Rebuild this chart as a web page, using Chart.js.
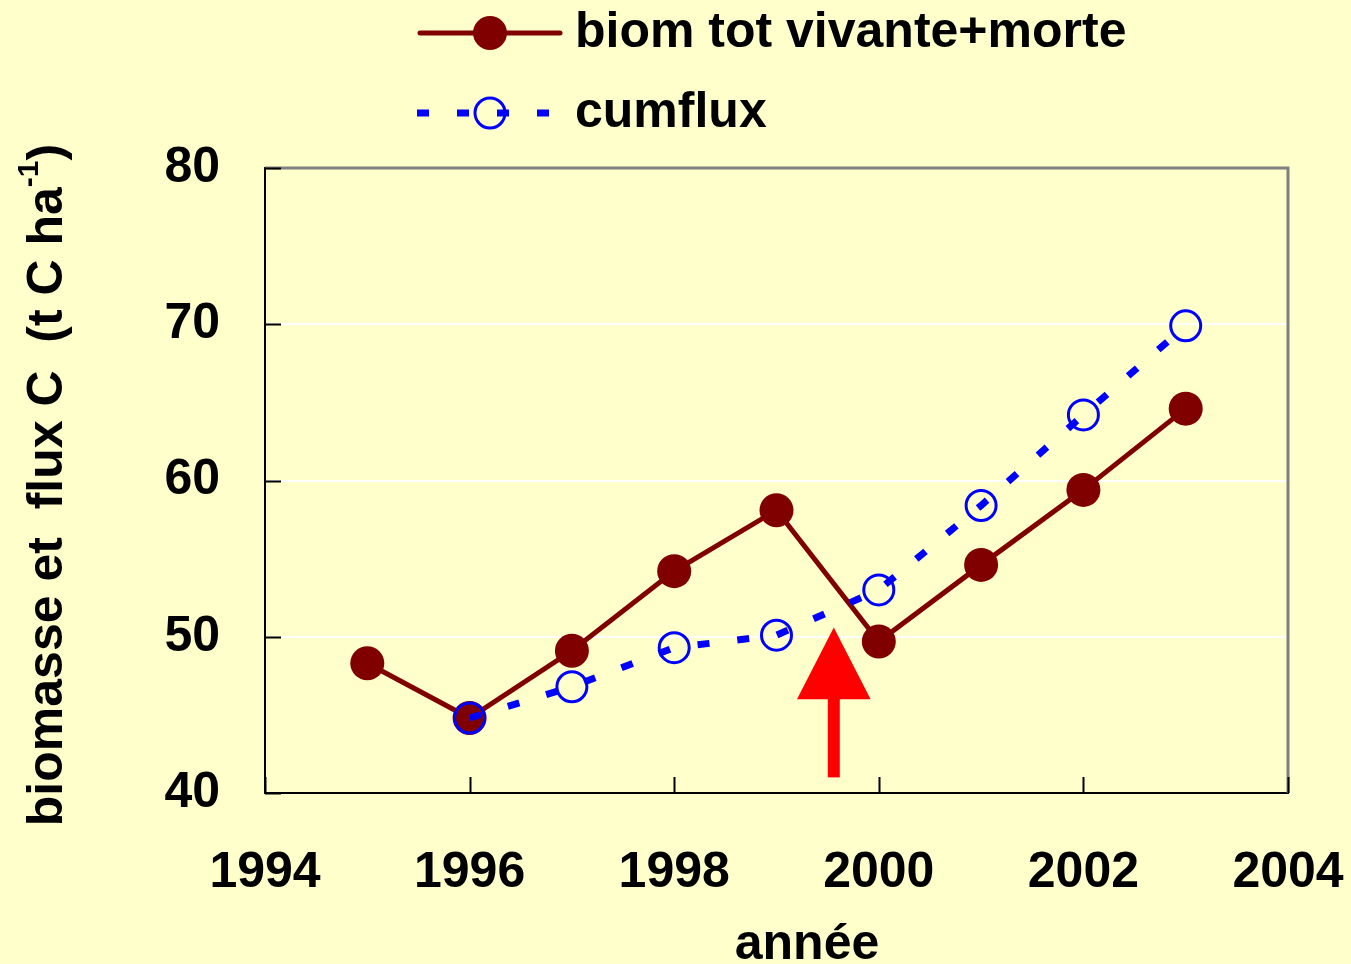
<!DOCTYPE html>
<html>
<head>
<meta charset="utf-8">
<script src="https://cdn.jsdelivr.net/npm/chart.js@4/dist/chart.umd.min.js"></script>
<style>
  html, body { margin: 0; padding: 0; background: #FFFFCC; }
  #wrap { width: 1351px; height: 964px; position: relative; }
</style>
</head>
<body>
<div id="wrap"><canvas id="graphe"></canvas></div>
<script>
// données
const annees = [1995, 1996, 1997, 1998, 1999, 2000, 2001, 2002, 2003];
const biomTot = [48.3, 44.8, 49.1, 54.2, 58.1, 49.7, 54.6, 59.4, 64.6];
const anneesFlux = [1996, 1997, 1998, 1999, 2000, 2001, 2002, 2003];
const cumflux = [44.8, 46.8, 49.3, 50.1, 53.0, 58.4, 64.2, 69.9];
const xTicks = [1994, 1996, 1998, 2000, 2002, 2004];
const yTicks = [40, 50, 60, 70, 80];
// flèche rouge : x, pointe, base de la tête, bas de la tige, demi-largeur
const fleche = [1999.56, 50.6, 46.0, 41.0, 0.36];

const police = 'bold 50px "Liberation Sans", Arial, sans-serif';

const decor = {
    id: 'decor',
    afterDatasetsDraw(chart) {
        const c = chart.ctx;
        const a = chart.chartArea;
        const sx = chart.scales.x;
        const sy = chart.scales.y;
        c.save();

        // cadre haut et droit gris
        c.strokeStyle = '#808080';
        c.lineWidth = 3;
        c.beginPath();
        c.moveTo(a.left, a.top);
        c.lineTo(a.right, a.top);
        c.lineTo(a.right, a.bottom);
        c.stroke();

        // graduations intérieures
        c.strokeStyle = '#000';
        c.lineWidth = 2;
        c.beginPath();
        yTicks.forEach(v => {
            const y = Math.round(sy.getPixelForValue(v)) + 0.5;
            c.moveTo(a.left, y);
            c.lineTo(a.left + 16, y);
        });
        xTicks.forEach(v => {
            const x = Math.round(sx.getPixelForValue(v)) + 0.5;
            c.moveTo(x, a.bottom);
            c.lineTo(x, a.bottom - 16);
        });
        c.stroke();

        // flèche
        const fx = sx.getPixelForValue(fleche[0]);
        const pointe = sy.getPixelForValue(fleche[1]);
        const base = sy.getPixelForValue(fleche[2]);
        const bas = sy.getPixelForValue(fleche[3]);
        const demi = sx.getPixelForValue(fleche[0] + fleche[4]) - fx;
        c.fillStyle = '#FF0000';
        c.fillRect(fx - 6, base - 1, 12, bas - base + 1);
        c.beginPath();
        c.moveTo(fx, pointe);
        c.lineTo(fx + demi, base);
        c.lineTo(fx - demi, base);
        c.closePath();
        c.fill();

        // légende
        c.lineCap = 'round';
        c.strokeStyle = '#800000';
        c.lineWidth = 5;
        c.beginPath();
        c.moveTo(420, 33);
        c.lineTo(560, 33);
        c.stroke();
        c.fillStyle = '#800000';
        c.beginPath();
        c.arc(490, 33, 17, 0, Math.PI * 2);
        c.fill();

        c.lineCap = 'butt';
        c.strokeStyle = '#0000FF';
        c.lineWidth = 7;
        c.setLineDash([12, 28]);
        c.beginPath();
        c.moveTo(417, 113);
        c.lineTo(560, 113);
        c.stroke();
        c.setLineDash([]);
        c.lineWidth = 3;
        c.beginPath();
        c.arc(490, 113, 15, 0, Math.PI * 2);
        c.stroke();

        c.fillStyle = '#000';
        c.font = police;
        c.textBaseline = 'middle';
        c.textAlign = 'left';
        c.fillText('biom tot vivante+morte', 575, 33);
        c.fillText('cumflux', 575, 113);

        // titre axe x
        c.textAlign = 'center';
        c.fillText('année', 807, 945);

        // titre axe y (avec exposant)
        c.translate(48, 485);
        c.rotate(-Math.PI / 2);
        const t1 = 'biomasse et  flux C  (t C ha';
        const sup = '-1';
        const t2 = ')';
        const policeSup = 'bold 30px "Liberation Sans", Arial, sans-serif';
        c.font = police;
        const w1 = c.measureText(t1).width;
        const w3 = c.measureText(t2).width;
        c.font = policeSup;
        const w2 = c.measureText(sup).width;
        let x0 = -(w1 + w2 + w3) / 2;
        c.textAlign = 'left';
        c.font = police;
        c.fillText(t1, x0, 0);
        c.font = policeSup;
        c.fillText(sup, x0 + w1, -18);
        c.font = police;
        c.fillText(t2, x0 + w1 + w2, 0);

        c.restore();
    }
};

const ctx = document.getElementById('graphe').getContext('2d');
const graphe = new Chart(ctx, {
    type: 'line',
    data: {
        datasets: [{
            label: 'biom tot vivante+morte',
            data: annees.map((a, i) => ({ x: a, y: biomTot[i] })),
            borderColor: '#800000',
            backgroundColor: '#800000',
            borderWidth: 5,
            pointRadius: 17,
            pointBorderWidth: 0,
            pointBackgroundColor: '#800000',
            order: 1
        }, {
            label: 'cumflux',
            data: anneesFlux.map((a, i) => ({ x: a, y: cumflux[i] })),
            borderColor: '#0000FF',
            backgroundColor: 'rgba(0,0,0,0)',
            borderWidth: 7,
            borderDash: [12, 28],
            pointRadius: 15,
            pointBorderWidth: 3,
            pointBorderColor: '#0000FF',
            pointBackgroundColor: 'rgba(0,0,0,0)',
            order: 0
        }]
    },
    options: {
        responsive: true,
        maintainAspectRatio: false,
        animation: false,
        layout: { padding: { top: 168, right: 63, left: 0, bottom: 0 } },
        plugins: {
            legend: { display: false },
            tooltip: { enabled: false }
        },
        scales: {
            x: {
                type: 'linear',
                min: 1994,
                max: 2004,
                afterFit: s => { s.height = 171; s.paddingLeft = 0; s.paddingRight = 0; },
                afterBuildTicks: s => { s.ticks = xTicks.map(v => ({ value: v })); },
                grid: { display: false, drawTicks: false },
                border: { display: true, color: '#000', width: 2 },
                ticks: {
                    padding: 50,
                    color: '#000',
                    font: { family: '"Liberation Sans", Arial, sans-serif', size: 50, weight: 'bold' },
                    callback: v => String(v)
                }
            },
            y: {
                min: 40,
                max: 80,
                afterFit: s => { s.width = 265; s.paddingTop = 0; s.paddingBottom = 0; },
                afterBuildTicks: s => { s.ticks = yTicks.map(v => ({ value: v })); },
                grid: {
                    drawTicks: false,
                    lineWidth: 2,
                    color: c => (c.tick && (c.tick.value === 40 || c.tick.value === 80)) ? 'rgba(0,0,0,0)' : '#FFFFFF'
                },
                border: { display: true, color: '#000', width: 2 },
                ticks: {
                    padding: 45,
                    color: '#000',
                    font: { family: '"Liberation Sans", Arial, sans-serif', size: 50, weight: 'bold' }
                }
            }
        }
    },
    plugins: [decor]
});
</script>
</body>
</html>
